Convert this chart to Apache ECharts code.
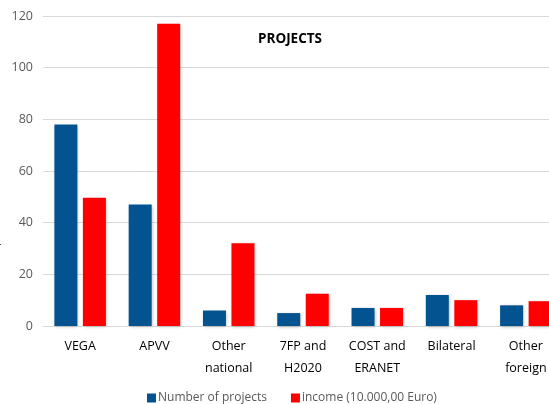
<!DOCTYPE html>
<html>
<head>
<meta charset="utf-8">
<style>
  html, body { margin: 0; padding: 0; background: #fff; overflow: hidden; width: 549px; height: 404px; }
  #chart { width: 570px; height: 404px; }
</style>
<script src="https://cdn.jsdelivr.net/npm/echarts@6/dist/echarts.min.js"></script>
</head>
<body>
<div id="chart"></div>
<script>
const categories = ['VEGA', 'APVV', 'Other\nnational', '7FP and\nH2020', 'COST and\nERANET', 'Bilateral', 'Other\nforeign'];
const numberOfProjects = [78, 47, 6, 5, 7, 12, 8];
const income = [49.6, 117, 32, 12.5, 7, 10, 9.6];
const yTicks = [0, 20, 40, 60, 80, 100, 120];

const chart = echarts.init(document.getElementById('chart'), null, { renderer: 'canvas' });
const font = 'Open Sans, Liberation Sans, sans-serif';
chart.setOption({
  animation: false,
  title: {
    text: 'PROJECTS',
    left: 253, top: 27,
    textStyle: { fontFamily: font, fontSize: 13.5, fontWeight: 'bold', color: '#000' }
  },
  legend: {
    top: 392, left: 147, padding: 0,
    itemWidth: 9, itemHeight: 9, itemGap: 24,
    icon: 'rect',
    textStyle: { fontFamily: font, fontSize: 12, color: '#595959', padding: [0, 0, 0, -3] },
    data: ['Number of projects', 'income (10.000,00 Euro)']
  },
  graphic: [{
    type: 'text', left: -4, top: 241,
    style: { text: 'r', font: '13px Open Sans', fill: '#44546A' }
  }],
  grid: { left: 43, right: 7, top: 16, height: 310 },
  xAxis: {
    type: 'category',
    data: categories,
    axisLine: { show: true, lineStyle: { color: '#d9d9d9' } },
    axisTick: { show: false },
    axisLabel: { fontFamily: font, fontSize: 12.5, color: '#000', margin: 9, lineHeight: 22, interval: 0 }
  },
  yAxis: {
    type: 'value',
    min: 0, max: 120, interval: 20,
    axisLine: { show: false },
    axisTick: { show: false },
    splitLine: { lineStyle: { color: '#d9d9d9', width: 1 } },
    axisLabel: { fontFamily: font, fontSize: 12.5, color: '#595959', margin: 10,
      formatter: v => yTicks.includes(v) ? String(v) : '' }
  },
  series: [
    {
      name: 'Number of projects', type: 'bar', data: numberOfProjects,
      barWidth: 23, barGap: '24%',
      itemStyle: { color: '#02538F', shadowColor: 'rgba(0,0,0,0.25)', shadowBlur: 3, shadowOffsetX: 1, shadowOffsetY: 1 }
    },
    {
      name: 'income (10.000,00 Euro)', type: 'bar', data: income,
      barWidth: 23,
      itemStyle: { color: '#FF0000', shadowColor: 'rgba(0,0,0,0.25)', shadowBlur: 3, shadowOffsetX: 1, shadowOffsetY: 1 }
    }
  ]
});
</script>
</body>
</html>
